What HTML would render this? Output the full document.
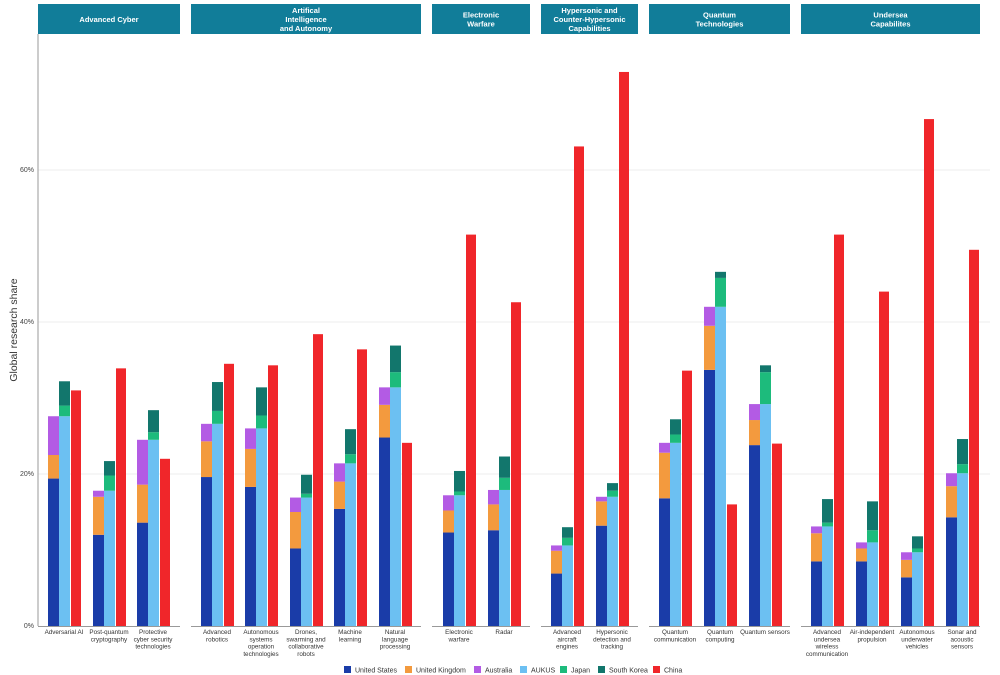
<!DOCTYPE html>
<html><head><meta charset="utf-8"><style>
html,body{margin:0;padding:0;background:#fff;}
svg{display:block;font-family:"Liberation Sans",sans-serif;}
</style></head><body>
<svg id="c" width="1000" height="675" viewBox="0 0 1000 675" xmlns="http://www.w3.org/2000/svg"></svg>
<script>
const S=document.getElementById('c');let h='';
const Y=v=>626-v*7.6;
const col={us:'#1a3ca8',uk:'#f39a3e',au:'#b35be4',ak:'#6cc0f2',jp:'#1dbb7c',sk:'#12766c',cn:'#f0262a'};
// gridlines
[20,40,60].forEach(v=>{h+=`<line x1="38" x2="990" y1="${Y(v)}" y2="${Y(v)}" stroke="#eeeeee" stroke-width="1"/>`;h+=`<text x="34" y="${Y(v)+2}" font-size="7" fill="#444" text-anchor="end">${v}%</text>`});
h+=`<text x="34" y="628" font-size="7" fill="#444" text-anchor="end">0%</text>`;
h+=`<line x1="38" x2="38" y1="34" y2="626" stroke="#999" stroke-width="1"/>`;
h+=`<text transform="translate(17,330) rotate(-90)" font-size="10.5" fill="#333" text-anchor="middle">Global research share</text>`;
const panels=[
 [38,180,['Advanced Cyber']],[191,421,['Artifical','Intelligence','and Autonomy']],[432,530,['Electronic','Warfare']],
 [541,638,['Hypersonic and','Counter-Hypersonic','Capabilities']],[649,790,['Quantum','Technologies']],[801,980,['Undersea','Capabilites']]];
panels.forEach(([a,b,t])=>{
 h+=`<rect x="${a}" y="4" width="${b-a}" height="30" fill="#117d99"/>`;
 const n=t.length,y0=19-(n-1)*4.5+3;
 t.forEach((s,i)=>h+=`<text x="${(a+b)/2}" y="${y0+i*9}" font-size="7.5" font-weight="bold" fill="#fff" text-anchor="middle">${s}</text>`);
 h+=`<line x1="${a}" x2="${b}" y1="626.5" y2="626.5" stroke="#999" stroke-width="1"/>`;
});
const D=[
[64,19.4,22.5,27.6,29,32.2,31,['Adversarial AI']],
[109,12,17,17.8,19.8,21.7,33.9,['Post-quantum','cryptography']],
[153,13.6,18.6,24.5,25.5,28.4,22,['Protective','cyber security','technologies']],
[217,19.6,24.3,26.6,28.3,32.1,34.5,['Advanced','robotics']],
[261,18.3,23.3,26,27.7,31.4,34.3,['Autonomous','systems','operation','technologies']],
[306,10.2,15,16.9,17.4,19.9,38.4,['Drones,','swarming and','collaborative','robots']],
[350,15.4,19,21.4,22.6,25.9,36.4,['Machine','learning']],
[395,24.8,29.1,31.4,33.4,36.9,24.1,['Natural','language','processing']],
[459,12.3,15.2,17.2,17.7,20.4,51.5,['Electronic','warfare']],
[504,12.6,16,17.9,19.5,22.3,42.6,['Radar']],
[567,6.9,9.9,10.6,11.6,13,63.1,['Advanced','aircraft','engines']],
[612,13.2,16.4,17,17.8,18.8,72.9,['Hypersonic','detection and','tracking']],
[675,16.8,22.8,24.1,25.2,27.2,33.6,['Quantum','communication']],
[720,33.7,39.5,42,45.8,46.6,16,['Quantum','computing']],
[765,23.8,27.1,29.2,33.4,34.3,24,['Quantum sensors']],
[827,8.5,12.2,13.1,13.6,16.7,51.5,['Advanced','undersea','wireless','communication']],
[872,8.5,10.2,11,12.6,16.4,44,['Air-independent','propulsion']],
[917,6.4,8.7,9.7,10.2,11.8,66.7,['Autonomous','underwater','vehicles']],
[962,14.3,18.4,20.1,21.3,24.6,49.5,['Sonar and','acoustic','sensors']]];
const r=(x,w,a,b,c)=>`<rect x="${x}" y="${Y(b)}" width="${w}" height="${Y(a)-Y(b)}" fill="${c}"/>`;
D.forEach(([c,us,uk,au,jp,sk,cn,lab])=>{
 h+=r(c-16,11,0,us,col.us)+r(c-16,11,us,uk,col.uk)+r(c-16,11,uk,au,col.au);
 h+=r(c-5,11,0,au,col.ak)+r(c-5,11,au,jp,col.jp)+r(c-5,11,jp,sk,col.sk);
 h+=r(c+7,10,0,cn,col.cn);
 lab.forEach((s,i)=>h+=`<text x="${c}" y="${634+i*7.3}" font-size="6.3" fill="#333" text-anchor="middle">${s}</text>`);
});
const L=[['United States',col.us,344],['United Kingdom',col.uk,405],['Australia',col.au,474],['AUKUS',col.ak,520],['Japan',col.jp,560],['South Korea',col.sk,598],['China',col.cn,653]];
L.forEach(([t,c,x])=>{h+=`<rect x="${x}" y="666" width="7" height="7" fill="${c}"/><text x="${x+11}" y="672.5" font-size="7" fill="#333">${t}</text>`});
S.innerHTML=h;
</script>
</body></html>
